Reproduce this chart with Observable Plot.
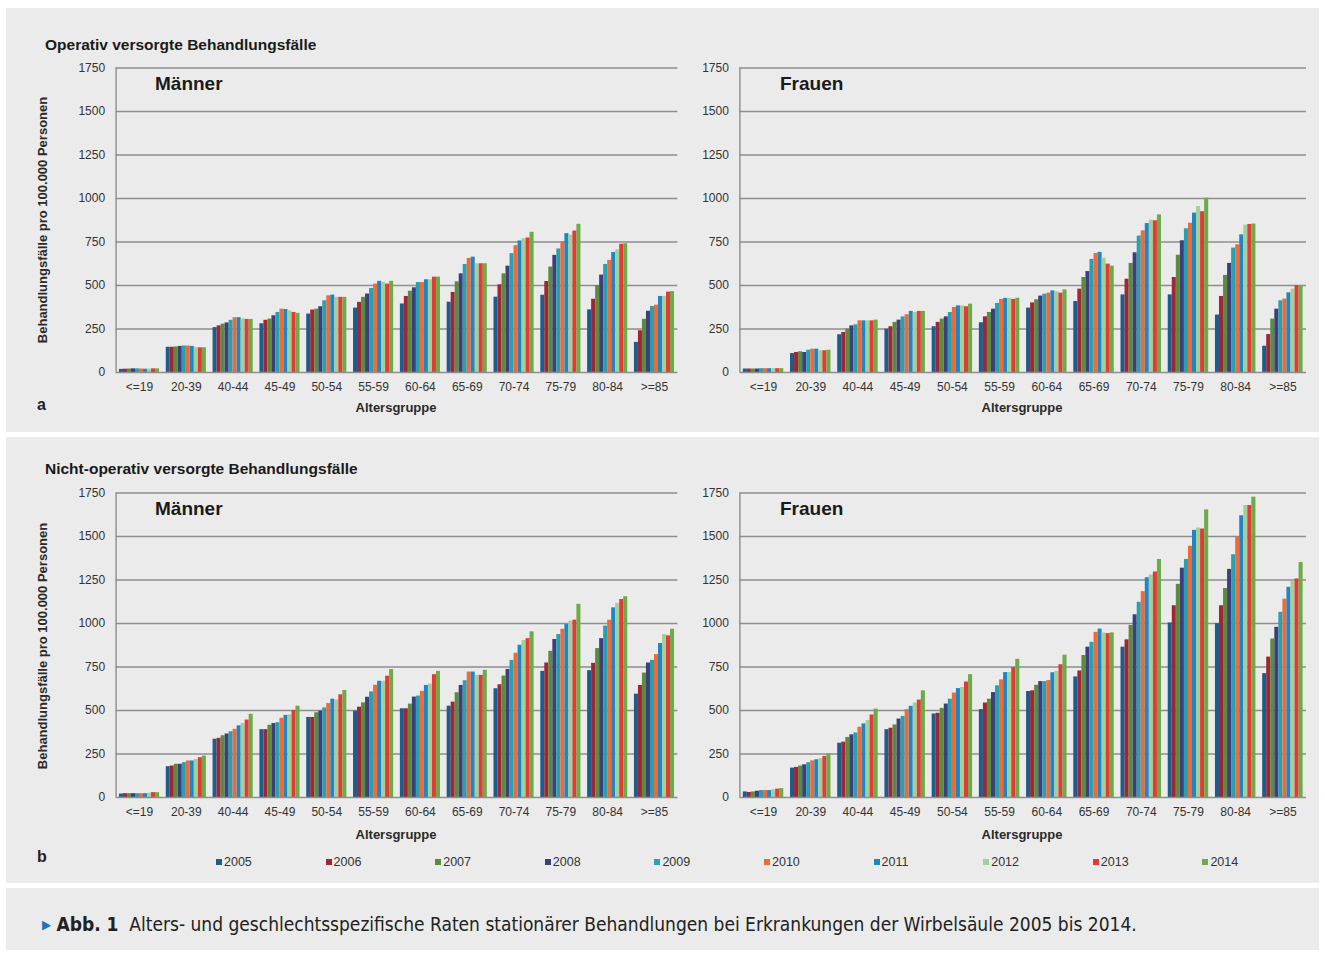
<!DOCTYPE html>
<html>
<head>
<meta charset="utf-8">
<script src="https://cdn.jsdelivr.net/npm/d3@7"></script>
<script src="https://cdn.jsdelivr.net/npm/@observablehq/plot@0.6"></script>
<style>
  body { margin: 0; background: #ffffff; }
  #root { position: relative; width: 1325px; height: 954px; font-family: "Liberation Sans", Arial, sans-serif; color: #222; overflow: hidden; }
  .abs { position: absolute; white-space: nowrap; }
  .box { position: absolute; background: #ebebeb; }
  .ptitle { font-weight: bold; font-size: 15.5px; line-height: 17px; color: #1a1a1a; }
  .sex { font-weight: bold; font-size: 19px; line-height: 22px; color: #1a1a1a; }
  .ylab { font-weight: bold; font-size: 13px; line-height: 14px; color: #2a2a2a; transform: translate(-50%, -50%) rotate(-90deg); }
  .xlab { font-weight: bold; font-size: 13px; line-height: 15px; color: #2a2a2a; transform: translateX(-50%); }
  .letter { font-weight: bold; font-size: 16px; line-height: 18px; color: #222; }
  .leg { font-size: 12.5px; line-height: 14px; color: #333; display: flex; align-items: center; }
  .leg span.sw { display: inline-block; width: 6px; height: 6px; margin-right: 2px; }
  .chart { position: absolute; }
  .caption { font-family: "Liberation Sans Narrow", "DejaVu Sans Condensed", "Liberation Sans", sans-serif; font-size: 19px; line-height: 22px; color: #222; }
</style>
</head>
<body>
<div id="root">
  <div class="box" style="left:6px;top:8px;width:1313px;height:424px"></div>
  <div class="box" style="left:6px;top:437px;width:1313px;height:446px"></div>
  <div class="box" style="left:6px;top:888px;width:1313px;height:62px"></div>

  <div class="abs ptitle" style="left:45px;top:36px">Operativ versorgte Behandlungsfälle</div>
  <div class="abs ptitle" style="left:45px;top:460px">Nicht-operativ versorgte Behandlungsfälle</div>

  <div class="abs ylab" style="left:43px;top:220px">Behandlungsfälle pro 100.000 Personen</div>
  <div class="abs ylab" style="left:43px;top:646px">Behandlungsfälle pro 100.000 Personen</div>

  <div id="c1" class="chart" style="left:0px;top:50px"></div>
  <div id="c2" class="chart" style="left:680px;top:50px"></div>
  <div id="c3" class="chart" style="left:0px;top:475px"></div>
  <div id="c4" class="chart" style="left:680px;top:475px"></div>

  <div class="abs sex" style="left:155px;top:73px">Männer</div>
  <div class="abs sex" style="left:780px;top:73px">Frauen</div>
  <div class="abs sex" style="left:155px;top:498px">Männer</div>
  <div class="abs sex" style="left:780px;top:498px">Frauen</div>

  <div class="abs xlab" style="left:396px;top:400px">Altersgruppe</div>
  <div class="abs xlab" style="left:1022px;top:400px">Altersgruppe</div>
  <div class="abs xlab" style="left:396px;top:827px">Altersgruppe</div>
  <div class="abs xlab" style="left:1022px;top:827px">Altersgruppe</div>

  <div class="abs letter" style="left:37px;top:396px">a</div>
  <div class="abs letter" style="left:37px;top:848px">b</div>

  <div id="legend"></div>

  <div class="abs caption" style="left:42px;top:913px"><span style="color:#1b75bb;font-size:13px;position:relative;top:-2px">&#9654;</span> <b>Abb. 1</b>&nbsp; Alters- und geschlechtsspezifische Raten stationärer Behandlungen bei Erkrankungen der Wirbelsäule 2005 bis 2014.</div>
</div>

<script>
// ---- Data ----
const ages = ["<=19", "20-39", "40-44", "45-49", "50-54", "55-59", "60-64", "65-69", "70-74", "75-79", "80-84", ">=85"];
const years = [2005, 2006, 2007, 2008, 2009, 2010, 2011, 2012, 2013, 2014];
const yearColors = ["#1d5d8c", "#a02535", "#5b8c3e", "#3d3f7d", "#28a0b0", "#ee6b38", "#1f86c6", "#a3cf98", "#e23a36", "#6cab45"];
const yTicks = [0, 250, 500, 750, 1000, 1250, 1500, 1750];

// Operativ versorgte Behandlungsfälle – Männer (rows: age groups, columns: 2005..2014)
const opMen = [
  [18, 19, 20, 21, 21, 20, 19, 20, 21, 21],
  [145, 145, 147, 150, 152, 152, 150, 143, 142, 142],
  [258, 268, 278, 285, 300, 315, 315, 308, 305, 305],
  [280, 300, 307, 326, 345, 364, 362, 355, 345, 340],
  [336, 359, 364, 378, 412, 441, 445, 432, 432, 432],
  [370, 403, 432, 451, 483, 508, 524, 518, 508, 524],
  [394, 437, 467, 487, 517, 517, 533, 533, 548, 548],
  [404, 460, 521, 567, 621, 656, 663, 625, 625, 625],
  [433, 504, 567, 611, 683, 729, 756, 769, 773, 806],
  [444, 523, 606, 673, 710, 752, 798, 790, 813, 852],
  [360, 421, 500, 560, 621, 644, 690, 706, 737, 740],
  [173, 240, 306, 352, 379, 387, 437, 437, 462, 465]
];
// Operativ – Frauen
const opWomen = [
  [20, 20, 20, 20, 22, 22, 22, 22, 22, 22],
  [109, 115, 119, 115, 128, 134, 134, 125, 125, 128],
  [217, 230, 249, 268, 274, 297, 297, 297, 297, 301],
  [249, 263, 288, 301, 320, 332, 351, 345, 351, 351],
  [263, 288, 307, 320, 345, 374, 383, 383, 378, 393],
  [286, 320, 345, 364, 397, 420, 426, 426, 420, 427],
  [370, 400, 418, 439, 450, 456, 469, 464, 456, 475],
  [408, 479, 546, 580, 650, 684, 690, 657, 623, 611],
  [446, 536, 627, 688, 784, 814, 856, 876, 872, 906],
  [446, 546, 674, 757, 826, 858, 916, 954, 924, 1002],
  [330, 437, 558, 627, 715, 734, 791, 847, 851, 853],
  [151, 218, 307, 364, 412, 422, 458, 479, 500, 500]
];
// Nicht-operativ – Männer
const nonopMen = [
  [20, 22, 22, 22, 22, 22, 22, 25, 28, 28],
  [177, 181, 191, 191, 200, 210, 210, 219, 229, 238],
  [335, 340, 355, 365, 378, 392, 412, 425, 445, 478],
  [390, 390, 415, 425, 430, 455, 472, 475, 500, 525],
  [460, 460, 487, 496, 515, 540, 565, 560, 590, 615],
  [496, 519, 544, 576, 607, 645, 668, 668, 697, 735],
  [510, 510, 537, 577, 583, 610, 644, 652, 706, 725],
  [525, 548, 602, 644, 671, 721, 721, 702, 702, 731],
  [625, 648, 698, 736, 788, 829, 875, 902, 913, 952],
  [725, 773, 840, 908, 937, 967, 994, 1013, 1019, 1110],
  [729, 771, 856, 913, 985, 1019, 1090, 1115, 1138, 1154],
  [594, 644, 715, 773, 788, 821, 885, 937, 929, 967]
];
// Nicht-operativ – Frauen
const nonopWomen = [
  [32, 29, 32, 36, 40, 40, 40, 44, 48, 51],
  [169, 173, 181, 188, 200, 211, 217, 223, 236, 251],
  [312, 318, 345, 360, 371, 404, 423, 442, 474, 508],
  [390, 398, 417, 451, 466, 505, 524, 543, 560, 613],
  [480, 484, 512, 537, 565, 600, 626, 632, 664, 706],
  [505, 543, 565, 603, 642, 676, 718, 718, 746, 794],
  [609, 613, 645, 666, 666, 672, 717, 725, 763, 818],
  [693, 727, 816, 864, 892, 949, 968, 946, 942, 946],
  [864, 906, 989, 1050, 1122, 1183, 1263, 1279, 1296, 1368],
  [1003, 1102, 1225, 1318, 1368, 1444, 1535, 1549, 1543, 1653],
  [999, 1102, 1201, 1311, 1395, 1497, 1619, 1678, 1678, 1726],
  [712, 807, 911, 978, 1064, 1140, 1208, 1240, 1256, 1351]
];

// ---- Chart builder ----
const groupGap = 0.0715;                       // outer gap within each age slot
const barW = (1 - 2 * groupGap) / years.length; // width of one year bar in age units

function panel(values, width, marginLeft, marginRight) {
  const data = [];
  values.forEach((row, i) => row.forEach((v, j) => data.push({ai: i, age: ages[i], yi: j, year: years[j], value: v})));
  const gridColor = "#8e8e8e";
  return Plot.plot({
    width, height: 370,
    marginLeft, marginRight, marginTop: 17.5, marginBottom: 48,
    style: {background: "transparent", fontFamily: "'Liberation Sans', Arial, sans-serif", fontSize: "12px", color: "#333"},
    x: {
      type: "linear", domain: [0, ages.length],
      ticks: ages.map((_, i) => i + 0.5),
      tickFormat: v => ages[Math.floor(v)],
      tickSize: 0, tickPadding: 10, label: null
    },
    y: {domain: [0, 1750], ticks: yTicks, tickFormat: d3.format("d"), tickSize: 0, tickPadding: 11, label: null},
    color: {type: "ordinal", domain: years, range: yearColors},
    marks: [
      Plot.ruleY(yTicks.filter(t => t > 0), {stroke: gridColor, strokeWidth: 1.4}),
      Plot.rect(data, {
        x1: d => d.ai + groupGap + d.yi * barW,
        x2: d => d.ai + groupGap + (d.yi + 1) * barW,
        y1: 0, y2: "value", fill: "year"
      }),
      Plot.ruleY([0], {stroke: gridColor, strokeWidth: 1.4}),
      Plot.ruleX([0], {stroke: gridColor, strokeWidth: 1.4})
    ]
  });
}

document.getElementById("c1").append(panel(opMen, 680, 115.6, 2.6));
document.getElementById("c2").append(panel(opWomen, 645, 59.4, 19));
document.getElementById("c3").append(panel(nonopMen, 680, 115.6, 2.6));
document.getElementById("c4").append(panel(nonopWomen, 645, 59.4, 19));

// ---- Legend ----
const legend = document.getElementById("legend");
years.forEach((y, i) => {
  const item = document.createElement("div");
  item.className = "abs leg";
  item.style.left = (216 + i * 109.6) + "px";
  item.style.top = "855px";
  item.innerHTML = `<span class="sw" style="background:${yearColors[i]}"></span>${y}`;
  legend.append(item);
});
</script>
</body>
</html>
